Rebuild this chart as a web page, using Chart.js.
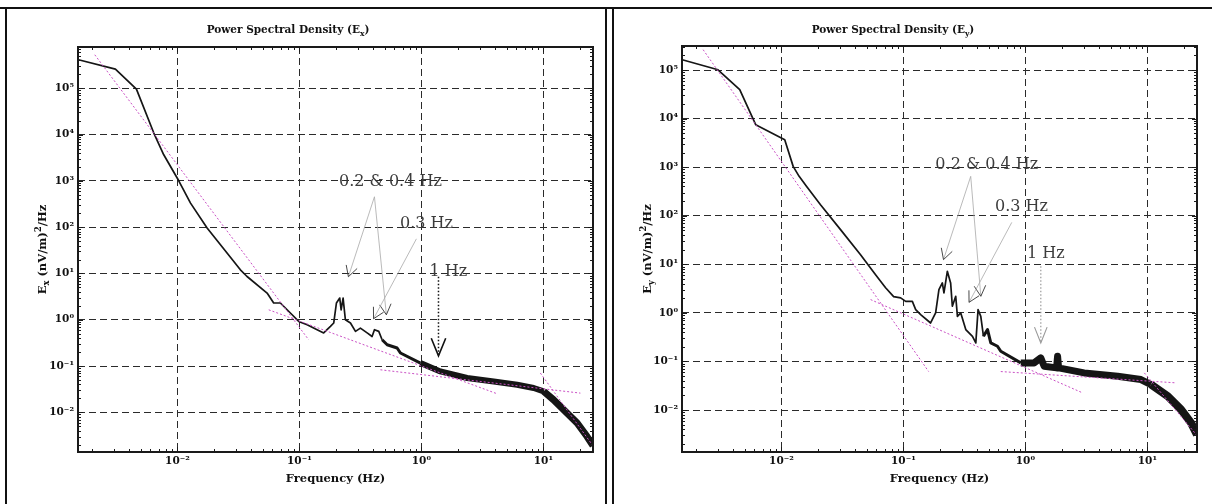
<!DOCTYPE html>
<html>
<head>
<meta charset="utf-8">
<script src="https://cdn.jsdelivr.net/npm/chart.js@4.4.1/dist/chart.umd.min.js"></script>
<style>
  body { margin: 0; background: #fff; }
  #wrap { position: relative; width: 1212px; height: 504px; overflow: hidden; }
  .panel { position: absolute; top: 0; width: 606px; height: 504px; }
  .line { position: absolute; background: #111; }
</style>
</head>
<body>
<div id="wrap">
  <div class="panel" style="left:0"><canvas id="chartEx" width="606" height="504"></canvas></div>
  <div class="panel" style="left:606px"><canvas id="chartEy" width="606" height="504"></canvas></div>
  <div class="line" style="left:0;top:7px;width:1212px;height:2px"></div>
  <div class="line" style="left:5px;top:7px;width:2px;height:497px"></div>
  <div class="line" style="left:605px;top:7px;width:2px;height:497px"></div>
  <div class="line" style="left:612px;top:7px;width:2px;height:497px"></div>
</div>
<script>
//Datos: E_x
const exFreq = [0.001545, 0.0031, 0.00461, 0.0064, 0.00772, 0.01025, 0.0128, 0.0175, 0.0255, 0.0328,
  0.0372, 0.0543, 0.0615, 0.0698, 0.0843, 0.0986, 0.1156, 0.1396, 0.158, 0.1795,
  0.191, 0.201, 0.214, 0.2197, 0.228, 0.238, 0.262, 0.288, 0.316, 0.359,
  0.394, 0.412, 0.447, 0.476, 0.524, 0.632, 0.673, 0.982, 1.43, 2.37,
  3.92, 6.09, 8.32, 10.05, 12.1, 15.6, 18.9, 22.8, 25.5];
const exPsd = [4.13e5, 2.6e5, 9.6e4, 1.08e4, 3660, 1005, 331, 95.6, 27.6, 12.0,
  8.6, 3.77, 2.3, 2.3, 1.4, 0.92, 0.78, 0.61, 0.52, 0.72,
  0.85, 2.3, 2.94, 1.64, 2.94, 1.0, 0.85, 0.56, 0.66, 0.52,
  0.435, 0.61, 0.56, 0.37, 0.288, 0.245, 0.191, 0.116, 0.0764, 0.0551,
  0.0465, 0.0394, 0.0335, 0.0283, 0.0187, 0.00966, 0.00588, 0.003, 0.0019];
//Rectas de ajuste (E_x)
const exFit1F = [0.0021, 0.119], exFit1V = [5.3e5, 0.37];
const exFit2F = [0.056, 4.17], exFit2V = [1.64, 0.0252];
const exFit3F = [0.461, 20.1], exFit3V = [0.083, 0.026];
const exFit4F = [9.44, 25.1], exFit4V = [0.0706, 0.002];

//Datos: E_y
const eyFreq = [0.001538, 0.00302, 0.00455, 0.00615, 0.01064, 0.01247, 0.01396, 0.01603, 0.0209, 0.0305,
  0.0445, 0.0591, 0.0714, 0.0831, 0.0949, 0.1043, 0.1183, 0.126, 0.1384, 0.167,
  0.1836, 0.1954, 0.2084, 0.2148, 0.229, 0.2437, 0.2517, 0.2683, 0.277, 0.295,
  0.3243, 0.368, 0.392, 0.409, 0.4306, 0.453, 0.489, 0.52, 0.59, 0.628,
  0.916, 1.178, 1.336, 1.424, 1.80, 1.835, 1.87, 3.03, 5.7, 8.85,
  10.7, 14.7, 18.9, 22.8, 25.5];
const eyPsd = [1.63e5, 1.01e5, 3.94e4, 7500, 3680, 1038, 647, 403, 169, 51.8,
  15.8, 6.1, 3.3, 2.16, 2.04, 1.73, 1.73, 1.17, 0.92, 0.62,
  1.0, 3.0, 4.14, 2.58, 7.18, 4.14, 1.37, 2.2, 0.85, 1.0,
  0.453, 0.33, 0.241, 1.17, 0.85, 0.33, 0.453, 0.241, 0.206, 0.162,
  0.0936, 0.0936, 0.1186, 0.0796, 0.0738, 0.128, 0.0738, 0.0582, 0.0496, 0.0424,
  0.0335, 0.0192, 0.0102, 0.00545, 0.0031];
//Rectas de ajuste (E_y)
const eyFit1F = [0.00228, 0.161], eyFit1V = [2.62e5, 0.062];
const eyFit2F = [0.0538, 2.94], eyFit2V = [1.88, 0.0226];
const eyFit3F = [0.628, 17.2], eyFit3V = [0.062, 0.0363];
const eyFit4F = [9.44, 25.5], eyFit4V = [0.0582, 0.003];

//Etiquetas de los ejes
const xTickValues = [0.01, 0.1, 1, 10];
const xTickLabels = ['10⁻²', '10⁻¹', '10⁰', '10¹'];
const yTickValues = [0.01, 0.1, 1, 10, 100, 1000, 10000, 100000];
const yTickLabels = ['10⁻²', '10⁻¹', '10⁰', '10¹', '10²', '10³', '10⁴', '10⁵'];

//Notas con flechas (en coordenadas de datos)
const exNotes = [
  { text: '0.2 & 0.4 Hz', f: 0.557, v: 955 },
  { text: '0.3 Hz', f: 1.1, v: 118 },
  { text: '1 Hz', f: 1.66, v: 10.9 }
];
const exArrows = [
  { from: [0.412, 454], to: [0.252, 8.5], kind: 'thin' },
  { from: [0.412, 454], to: [0.516, 1.28], kind: 'thin' },
  { from: [0.91, 56], to: [0.405, 1.05], kind: 'thin' },
  { from: [1.38, 8.5], to: [1.38, 0.166], kind: 'dotBlack' }
];
const eyNotes = [
  { text: '0.2 & 0.4 Hz', f: 0.482, v: 1125 },
  { text: '0.3 Hz', f: 0.929, v: 156 },
  { text: '1 Hz', f: 1.47, v: 16.6 }
];
const eyArrows = [
  { from: [0.356, 647], to: [0.213, 12.5], kind: 'thin' },
  { from: [0.356, 647], to: [0.431, 2.2], kind: 'thin' },
  { from: [0.773, 73], to: [0.345, 1.65], kind: 'thin' },
  { from: [1.337, 9.1], to: [1.337, 0.241], kind: 'dotGray' }
];

const SERIF = '"DejaVu Serif", serif';
Chart.defaults.font.family = SERIF;
Chart.defaults.color = '#111';

const toXY = (fs, vs) => fs.map((f, i) => ({ x: f, y: vs[i] }));

const labelFor = (vals, labels) => (value) => {
  const i = vals.findIndex(t => Math.abs(Math.log10(t) - Math.log10(value)) < 1e-6);
  return i < 0 ? '' : labels[i];
};

//ticks menores 1..9 x 10^n
const logTicks = (scale) => {
  const ticks = [];
  const lo = Math.floor(Math.log10(scale.min));
  const hi = Math.ceil(Math.log10(scale.max));
  for (let e = lo; e <= hi; e++) {
    for (let m = 1; m <= 9; m++) {
      const v = m * Math.pow(10, e);
      if (v >= scale.min && v <= scale.max) ticks.push({ value: v, major: m === 1 });
    }
  }
  scale.ticks = ticks;
};

const arrowStyles = {
  thin: { shaft: '#a8a8a8', width: 0.8, dash: [], head: '#333', headWidth: 0.9, len: 12, ang: 0.5 },
  dotBlack: { shaft: '#111', width: 1.5, dash: [1.5, 2], head: '#111', headWidth: 1.6, len: 19, ang: 0.39 },
  dotGray: { shaft: '#9a9a9a', width: 1.2, dash: [1.5, 2], head: '#999', headWidth: 1.1, len: 17, ang: 0.38 }
};

const drawArrow = (ctx, x1, y1, x2, y2, st) => {
  ctx.save();
  ctx.strokeStyle = st.shaft;
  ctx.lineWidth = st.width;
  ctx.setLineDash(st.dash);
  ctx.beginPath();
  ctx.moveTo(x1, y1);
  ctx.lineTo(x2, y2);
  ctx.stroke();
  ctx.setLineDash([]);
  const a = Math.atan2(y2 - y1, x2 - x1);
  ctx.strokeStyle = st.head;
  ctx.lineWidth = st.headWidth;
  ctx.beginPath();
  ctx.moveTo(x2 - st.len * Math.cos(a - st.ang), y2 - st.len * Math.sin(a - st.ang));
  ctx.lineTo(x2, y2);
  ctx.lineTo(x2 - st.len * Math.cos(a + st.ang), y2 - st.len * Math.sin(a + st.ang));
  ctx.stroke();
  ctx.restore();
};

//texto con subindices (-1) y superindices (1), centrado en cx, linea base cy
const drawRich = (ctx, parts, cx, cy, size) => {
  const small = size * 0.72;
  const fontOf = m => 'bold ' + (m ? small : size) + 'px ' + SERIF;
  let total = 0;
  const widths = parts.map(([t, m]) => {
    ctx.font = fontOf(m);
    const w = ctx.measureText(t).width;
    total += w;
    return w;
  });
  let x = cx - total / 2;
  ctx.textAlign = 'left';
  ctx.textBaseline = 'alphabetic';
  parts.forEach(([t, m], i) => {
    ctx.font = fontOf(m);
    const dy = m === -1 ? size * 0.3 : (m === 1 ? -size * 0.42 : 0);
    ctx.fillText(t, x, cy + dy);
    x += widths[i];
  });
};

const makeDecor = (cfg) => ({
  id: 'psdDecor',
  afterDatasetsDraw(chart) {
    const { ctx, chartArea: a, scales } = chart;
    ctx.save();
    ctx.strokeStyle = '#1a1a1a';
    ctx.lineWidth = 1;
    ctx.beginPath();
    scales.x.ticks.forEach(t => {
      const px = Math.round(scales.x.getPixelForValue(t.value)) + 0.5;
      const len = t.major ? 5 : 3;
      ctx.moveTo(px, a.bottom); ctx.lineTo(px, a.bottom - len);
      ctx.moveTo(px, a.top); ctx.lineTo(px, a.top + len);
    });
    scales.y.ticks.forEach(t => {
      const py = Math.round(scales.y.getPixelForValue(t.value)) + 0.5;
      const len = t.major ? 5 : 3;
      ctx.moveTo(a.left, py); ctx.lineTo(a.left + len, py);
      ctx.moveTo(a.right, py); ctx.lineTo(a.right - len, py);
    });
    ctx.stroke();
    ctx.lineWidth = 2;
    ctx.strokeRect(a.left, a.top, a.right - a.left, a.bottom - a.top);
    ctx.restore();
  },
  afterDraw(chart) {
    const { ctx, scales } = chart;
    const X = f => scales.x.getPixelForValue(f);
    const Y = v => scales.y.getPixelForValue(v);
    ctx.save();
    ctx.fillStyle = '#111';
    drawRich(ctx, [['Power Spectral Density (E', 0], [cfg.sub, -1], [')', 0]], cfg.titleX, 33, 10.5);
    ctx.translate(cfg.yTitleX, (chart.chartArea.top + chart.chartArea.bottom) / 2);
    ctx.rotate(-Math.PI / 2);
    drawRich(ctx, [['E', 0], [cfg.sub, -1], [' (nV/m)', 0], ['2', 1], ['/Hz', 0]], 0, 0, 11.5);
    ctx.restore();

    cfg.arrows.forEach(ar => {
      drawArrow(ctx, X(ar.from[0]), Y(ar.from[1]), X(ar.to[0]), Y(ar.to[1]), arrowStyles[ar.kind]);
    });
    ctx.save();
    ctx.font = '16px ' + SERIF;
    ctx.fillStyle = '#3c3c3c';
    ctx.textAlign = 'center';
    ctx.textBaseline = 'middle';
    cfg.notes.forEach(n => ctx.fillText(n.text, X(n.f), Y(n.v)));
    ctx.restore();
  }
});

const fitSet = (fs, vs) => ({
  data: toXY(fs, vs),
  showLine: true,
  borderColor: '#c94fc4',
  borderWidth: 1,
  borderDash: [2, 2],
  pointRadius: 0,
  order: 0
});

//grafico de un panel
const makePanel = (id, cfg) => {
  const ctx = document.getElementById(id).getContext('2d');
  return new Chart(ctx, {
    type: 'scatter',
    data: {
      datasets: [
        {
          data: toXY(cfg.freq, cfg.psd),
          showLine: true,
          borderColor: '#151515',
          borderWidth: 1.6,
          borderJoinStyle: 'round',
          pointRadius: 0,
          order: 1,
          segment: {
            borderWidth: c => {
              const f = c.p0.parsed.x;
              if (f < 0.45) return 1.7;
              if (f < 0.9) return 3;
              if (f < 9) return cfg.band;
              return cfg.band + 1;
            }
          }
        },
        ...cfg.fits.map(([fs, vs]) => fitSet(fs, vs))
      ]
    },
    options: {
      responsive: false,
      animation: false,
      layout: { padding: { top: cfg.padTop, right: cfg.padRight, left: 0, bottom: 0 } },
      plugins: { legend: { display: false }, tooltip: { enabled: false }, title: { display: false } },
      scales: {
        x: {
          type: 'logarithmic',
          min: 0.00153,
          max: 25.5,
          afterBuildTicks: logTicks,
          afterFit: s => { s.height = 52; },
          grid: {
            drawTicks: false,
            color: c => (c.tick && c.tick.major) ? '#2b2b2b' : 'rgba(0,0,0,0)',
            lineWidth: 1
          },
          border: { display: false, dash: [7, 4] },
          ticks: {
            autoSkip: false,
            maxRotation: 0,
            padding: 3,
            font: { size: 10.5, weight: 'bold' },
            callback: labelFor(xTickValues, xTickLabels)
          },
          title: {
            display: true,
            text: 'Frequency (Hz)',
            font: { size: 11.5, weight: 'bold' },
            padding: { top: 0, bottom: 18 }
          }
        },
        y: {
          type: 'logarithmic',
          min: cfg.yMin,
          max: cfg.yMax,
          afterBuildTicks: logTicks,
          afterFit: s => { s.width = cfg.yWidth; },
          grid: {
            drawTicks: false,
            color: c => (c.tick && c.tick.major) ? '#2b2b2b' : 'rgba(0,0,0,0)',
            lineWidth: 1
          },
          border: { display: false, dash: [7, 4] },
          ticks: {
            autoSkip: false,
            padding: 4,
            font: { size: 10.5, weight: 'bold' },
            callback: labelFor(yTickValues, yTickLabels)
          }
        }
      }
    },
    plugins: [makeDecor(cfg)]
  });
};

makePanel('chartEx', {
  freq: exFreq, psd: exPsd,
  fits: [[exFit1F, exFit1V], [exFit2F, exFit2V], [exFit3F, exFit3V], [exFit4F, exFit4V]],
  yMin: 1.39e-3, yMax: 7.8e5,
  padTop: 47, padRight: 13, yWidth: 78, band: 6,
  sub: 'x', titleX: 288, yTitleX: 46,
  notes: exNotes, arrows: exArrows
});

makePanel('chartEy', {
  freq: eyFreq, psd: eyPsd,
  fits: [[eyFit1F, eyFit1V], [eyFit2F, eyFit2V], [eyFit3F, eyFit3V], [eyFit4F, eyFit4V]],
  yMin: 1.37e-3, yMax: 3.12e5,
  padTop: 46, padRight: 15, yWidth: 76, band: 7,
  sub: 'y', titleX: 287, yTitleX: 45,
  notes: eyNotes, arrows: eyArrows
});
</script>
</body>
</html>
